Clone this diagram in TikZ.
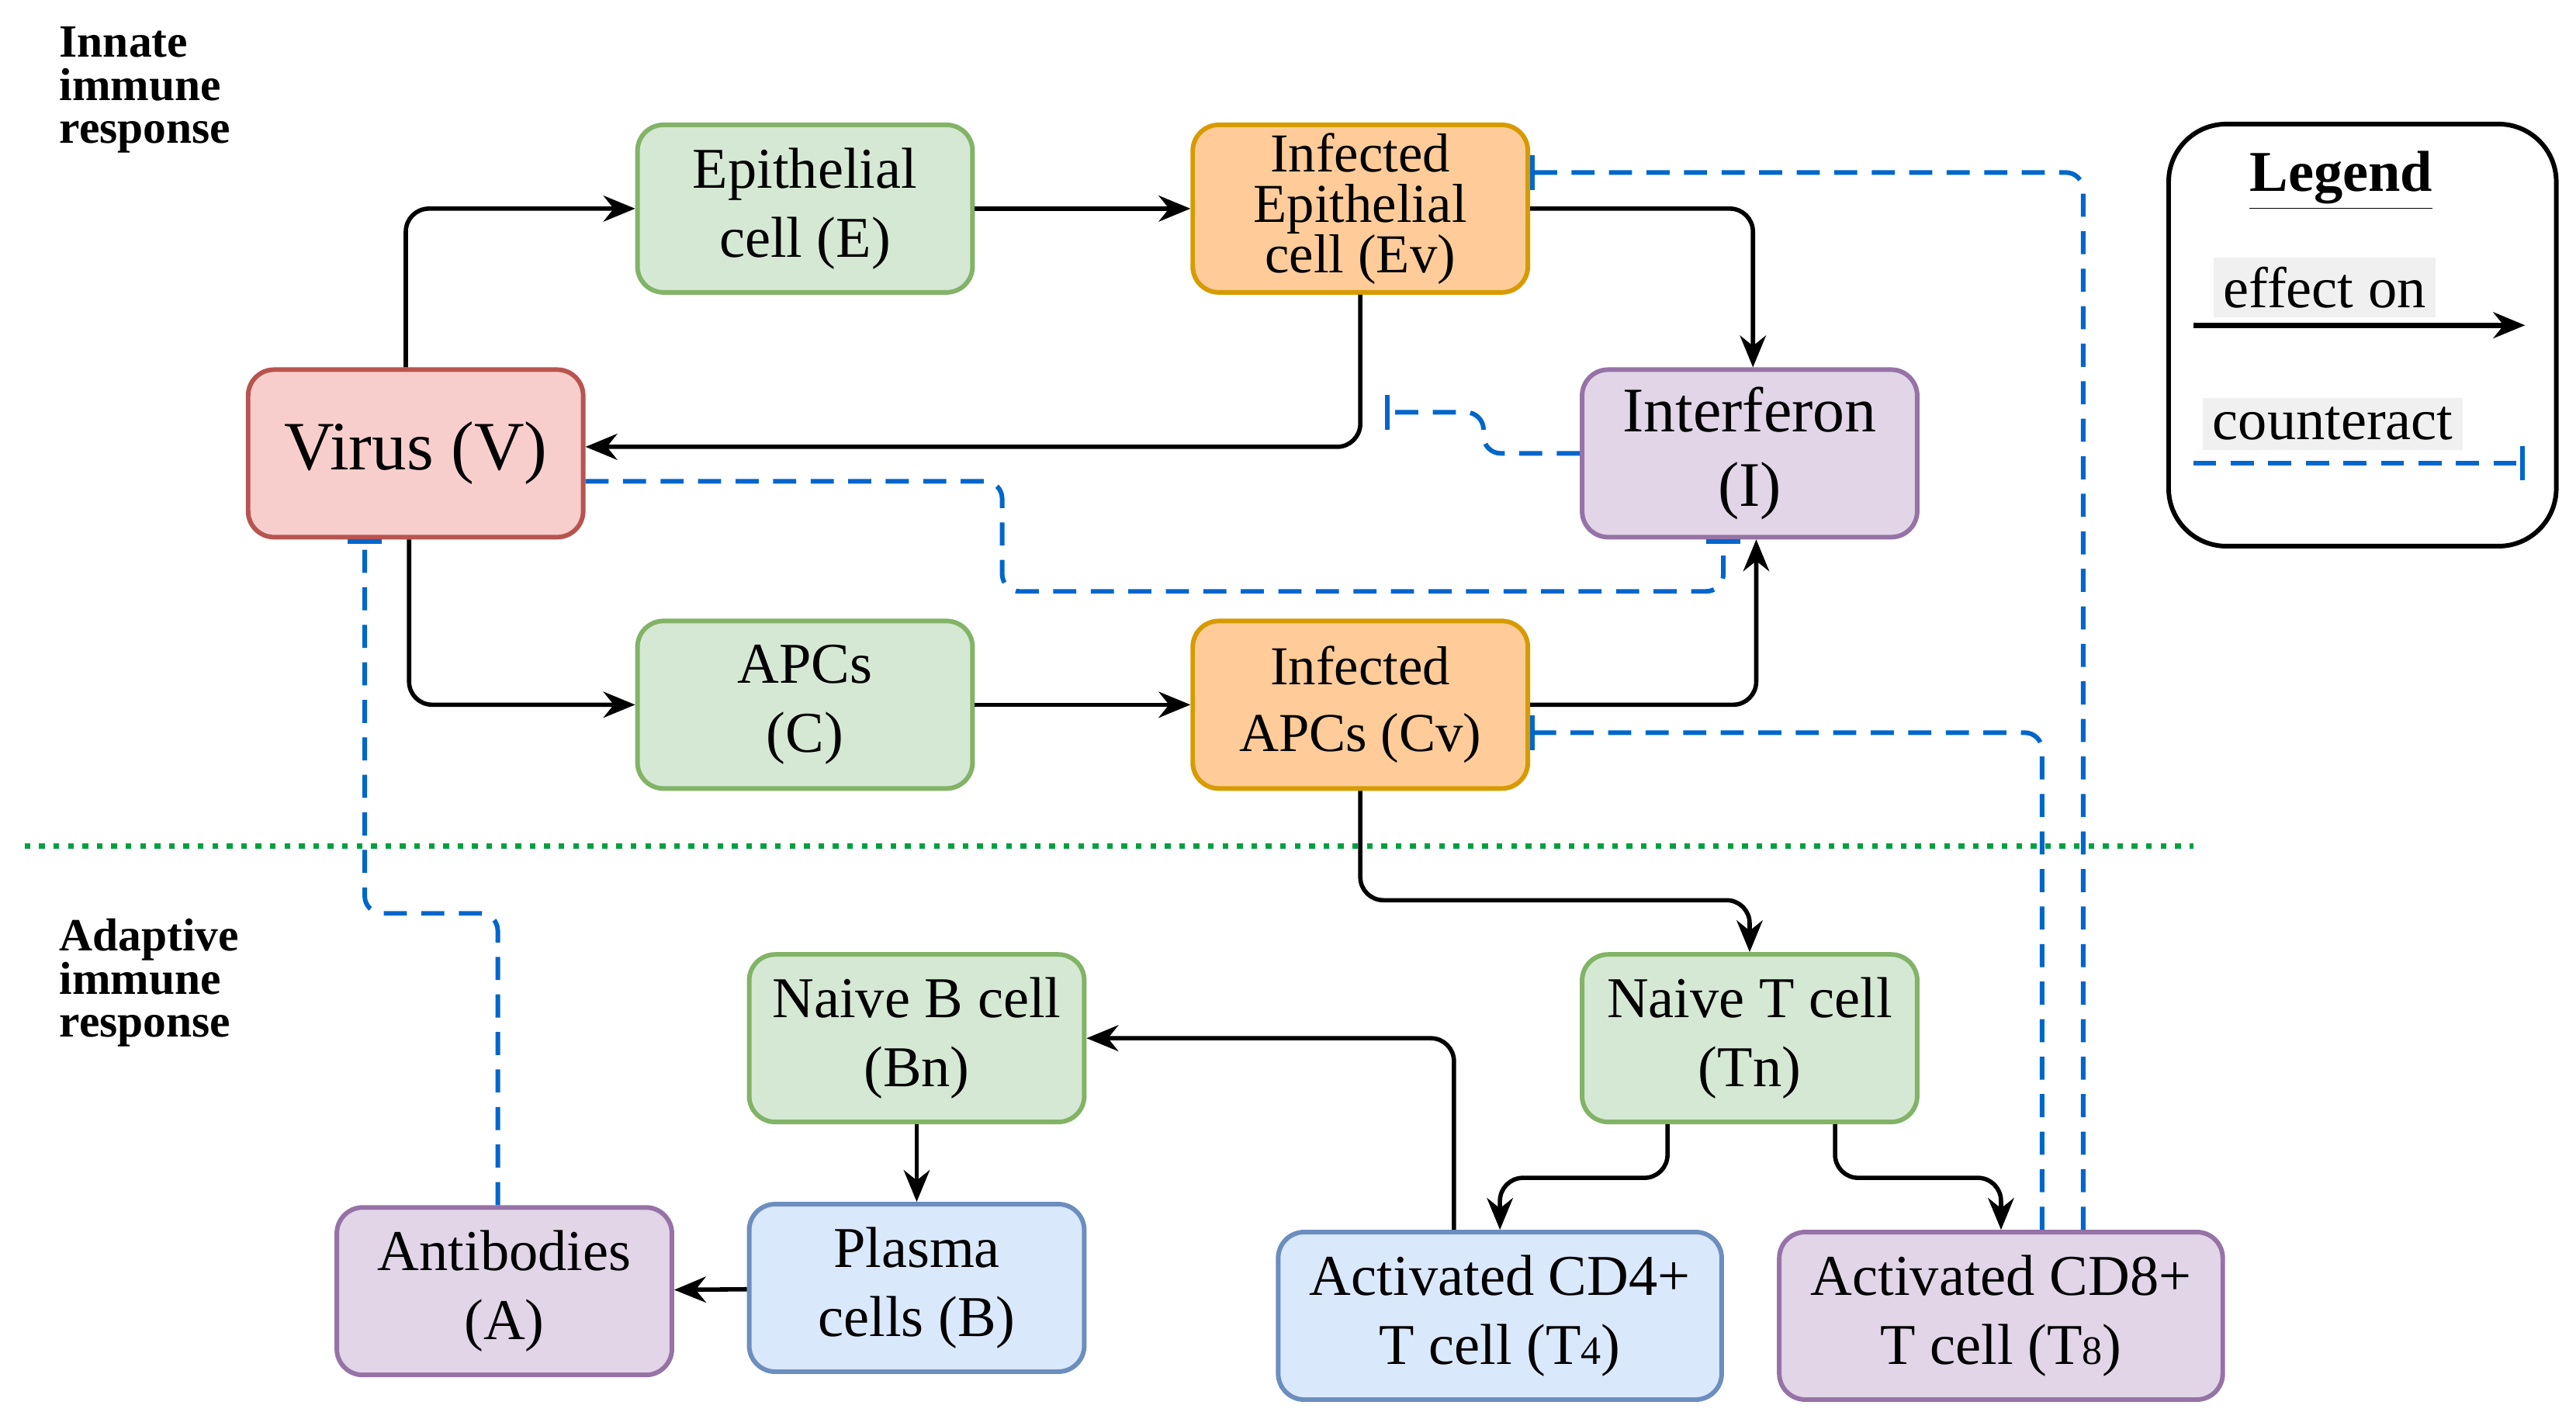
\documentclass[tikz,border=0pt]{standalone}
\usepackage{fontspec}
\setmainfont{Liberation Serif}
\usetikzlibrary{arrows.meta}
\definecolor{gF}{HTML}{D5E8D4}\definecolor{gS}{HTML}{82B366}
\definecolor{oF}{HTML}{FFCC99}\definecolor{oS}{HTML}{D79B00}
\definecolor{rF}{HTML}{F8CECC}\definecolor{rS}{HTML}{B85450}
\definecolor{pF}{HTML}{E1D5E7}\definecolor{pS}{HTML}{9673A6}
\definecolor{bF}{HTML}{DAE8FC}\definecolor{bS}{HTML}{6C8EBF}
\definecolor{dB}{HTML}{0066CC}\definecolor{dG}{HTML}{00A040}
\begin{document}
\begin{tikzpicture}[x={(0.02cm,0)},y={(0,-0.02cm)},
 box/.style={draw,line width=1.6pt,rounded corners=9pt,minimum width=4.08cm,minimum height=2.04cm,align=center,font=\fontsize{20}{24}\selectfont,inner sep=2pt},
 gr/.style={box,fill=gF,draw=gS}, orr/.style={box,fill=oF,draw=oS,font=\fontsize{19}{17.5}\selectfont},
 pu/.style={box,fill=pF,draw=pS}, bl/.style={box,fill=bF,draw=bS},
 ar/.style={line width=1.5pt,rounded corners=8pt,-{Stealth[length=11pt,width=9pt]}},
 ct/.style={line width=1.6pt,draw=dB,dash pattern=on 8pt off 5pt,rounded corners=6pt,-{Bar[width=12pt,line width=1.6pt]}},
 lab/.style={font=\bfseries\fontsize{16}{15}\selectfont,align=left,anchor=north west}]
\useasboundingbox (0,0) rectangle (1568,868);
\node[lab] at (30,10) {Innate\\immune\\response};
\node[lab] at (30,553) {Adaptive\\immune\\response};
\node[gr] (E) at (490,127) {Epithelial\\cell (E)};
\node[orr] (Ev) at (828,127) {Infected\\Epithelial\\cell (Ev)};
\node[box,fill=rF,draw=rS,font=\fontsize{24}{26}\selectfont] (V) at (253,276) {Virus (V)};
\node[pu,font=\fontsize{22}{26}\selectfont] (I) at (1065,276) {Interferon\\(I)};
\node[gr] (C) at (490,429) {APCs\\(C)};
\node[orr,font=\fontsize{19}{23}\selectfont] (Cv) at (828,429) {Infected\\APCs (Cv)};
\node[gr] (Bn) at (558,632) {Naive B cell\\(Bn)};
\node[gr] (Tn) at (1065,632) {Naive T cell\\(Tn)};
\node[pu] (A) at (307,786) {Antibodies\\(A)};
\node[bl] (B) at (558,784) {Plasma\\cells (B)};
\node[bl,minimum width=5.4cm] (T4) at (913,801) {Activated CD4+\\T cell (T{\fontsize{14}{14}\selectfont 4})};
\node[pu,minimum width=5.4cm] (T8) at (1218,801) {Activated CD8+\\T cell (T{\fontsize{14}{14}\selectfont 8})};
% arrows
\draw[ar] (V.north -| 247,0) |- (E.west);
\draw[ar] (E) -- (Ev);
\draw[ar] (Ev.east) -| (I.north -| 1067,0);
\draw[ar] (Ev.south) |- (V.east |- 0,272);
\draw[ar] (V.south -| 249,0) |- (C.west);
\draw[ar] (C) -- (Cv);
\draw[ar] (Cv.east) -| (I.south -| 1069,0);
\draw[ar] (Cv.south) |- (1065,548) -- (Tn.north);
\draw[ar] (Tn.south -| 1015,0) |- (913,717) -- (T4.north -| 913,0);
\draw[ar] (Tn.south -| 1117,0) |- (1218,717) -- (T8.north);
\draw[ar] (T4.north -| 885,0) |- (Bn.east);
\draw[ar] (Bn) -- (B);
\draw[ar] (B) -- (A);
% counteract
\draw[ct] (I.west) -- (903,276) -- (903,251) -- (843,251);
\draw[ct] (V.east |- 0,293) -- (610,293) -- (610,360) -- (1049,360) -- (I.south -| 1049,0);
\draw[ct] (A.north -| 303,0) -- (303,556) -- (222,556) -- (V.south -| 222,0);
\draw[ct] (T8.north -| 1268,0) -- (1268,105) -- (Ev.east |- 0,105);
\draw[ct] (T8.north -| 1243,0) -- (1243,446) -- (Cv.east |- 0,446);
\draw[dG,line width=2pt,dash pattern=on 2pt off 3pt] (15,515) -- (1335,515);
% legend
\node[draw,line width=1.6pt,rounded corners=20pt,minimum width=4.72cm,minimum height=5.14cm] (L) at (1438,204) {};
\node[font=\bfseries\fontsize{20}{24}\selectfont] (Lt) at (1425,110) {\underline{Legend}};
\node[font=\fontsize{20}{24}\selectfont,fill=black!6] (l1) at (1415,175) {effect on};
\node[font=\fontsize{20}{24}\selectfont,fill=black!6] (l2) at (1420,258) {counteract};
\coordinate (a1) at (1335,198); \coordinate (a2) at (1537,198);
\coordinate (b1) at (1335,282); \coordinate (b2) at (1537,282);
\draw[ar,line width=2pt] (a1) -- (a2);
\draw[ct] (b1) -- (b2);
\end{tikzpicture}
\end{document}
